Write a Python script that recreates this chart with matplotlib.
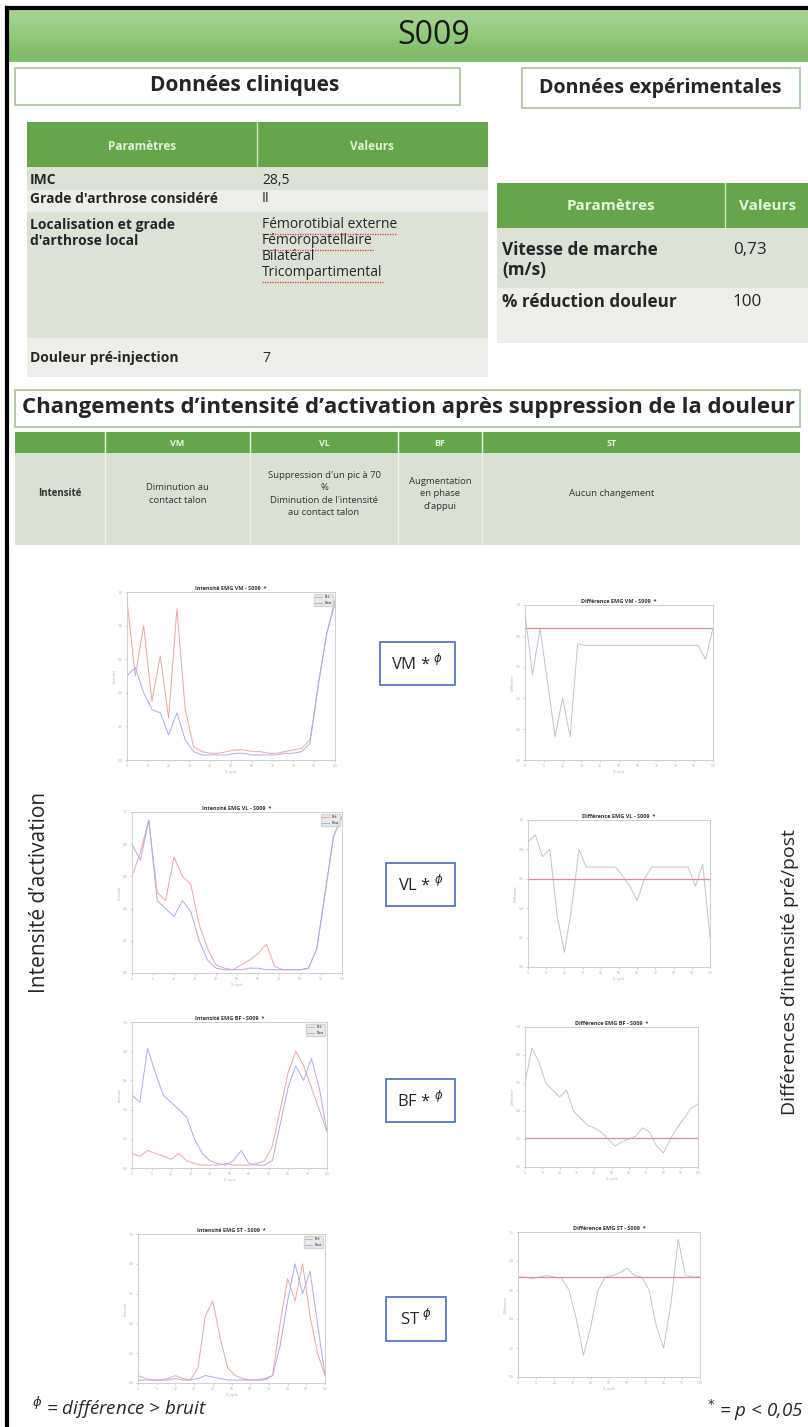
import matplotlib
matplotlib.use('Agg')
import numpy as np
from matplotlib import pyplot as plt
from matplotlib.patches import Rectangle
from matplotlib.colors import LinearSegmentedColormap

plt.rcParams['font.family'] = ['Open Sans', 'DejaVu Sans']

W, H = 808, 1427

# ---- données ----
patient = 'S009'

clin_params = ['IMC', "Grade d'arthrose considéré", "Localisation et grade\nd'arthrose local", 'Douleur pré-injection']
clin_values = ['28,5', 'II', '', '7']
loc_lines = ['Fémorotibial externe', 'Fémoropatellaire', 'Bilatéral', 'Tricompartimental']
loc_underlined = [True, True, False, True]

exp_params = ['Vitesse de marche\n(m/s)', '% réduction douleur']
exp_values = ['0,73', '100']

muscles = ['VM', 'VL', 'BF', 'ST']
changes = ['Diminution au\ncontact talon',
           "Suppression d'un pic à 70\n%\nDiminution de l'intensité\nau contact talon",
           "Augmentation\nen phase\nd'appui",
           'Aucun changement']
signif = [r'VM * ${}^{\phi}$', r'VL * ${}^{\phi}$', r'BF * ${}^{\phi}$', r'ST ${}^{\phi}$']

# % du cycle de marche
cycle = [0, 4, 8, 12, 16, 20, 24, 28, 32, 36, 40, 44, 48, 52, 56, 60, 64, 68, 72, 76, 80, 84, 88, 92, 96, 100]

# intensité d'activation (pré = rouge, post = bleu)
vm_pre = [0.95, 0.50, 0.80, 0.35, 0.62, 0.25, 0.90, 0.30, 0.08, 0.05, 0.04, 0.04, 0.05, 0.06, 0.06, 0.05, 0.05, 0.04, 0.04, 0.05, 0.06, 0.07, 0.12, 0.45, 0.75, 0.93]
vm_post = [0.50, 0.55, 0.40, 0.30, 0.28, 0.15, 0.28, 0.12, 0.05, 0.03, 0.03, 0.03, 0.03, 0.04, 0.04, 0.03, 0.03, 0.03, 0.03, 0.04, 0.04, 0.05, 0.10, 0.45, 0.75, 0.95]
vl_pre = [0.60, 0.75, 0.95, 0.50, 0.45, 0.72, 0.60, 0.55, 0.30, 0.15, 0.05, 0.03, 0.02, 0.05, 0.08, 0.12, 0.18, 0.04, 0.02, 0.02, 0.02, 0.03, 0.15, 0.50, 0.85, 0.97]
vl_post = [0.80, 0.70, 0.95, 0.45, 0.40, 0.35, 0.45, 0.38, 0.20, 0.08, 0.03, 0.02, 0.02, 0.02, 0.03, 0.03, 0.02, 0.02, 0.02, 0.02, 0.02, 0.03, 0.15, 0.50, 0.85, 0.97]
bf_pre = [0.10, 0.08, 0.12, 0.10, 0.08, 0.06, 0.10, 0.05, 0.03, 0.02, 0.02, 0.02, 0.03, 0.02, 0.02, 0.02, 0.03, 0.05, 0.15, 0.40, 0.65, 0.80, 0.70, 0.55, 0.40, 0.25]
bf_post = [0.50, 0.45, 0.82, 0.65, 0.50, 0.45, 0.40, 0.35, 0.20, 0.10, 0.05, 0.03, 0.02, 0.05, 0.12, 0.03, 0.02, 0.02, 0.05, 0.30, 0.55, 0.70, 0.60, 0.75, 0.55, 0.25]
st_pre = [0.05, 0.03, 0.02, 0.02, 0.03, 0.05, 0.03, 0.02, 0.10, 0.45, 0.55, 0.30, 0.10, 0.05, 0.03, 0.02, 0.02, 0.02, 0.05, 0.40, 0.70, 0.55, 0.80, 0.45, 0.20, 0.05]
st_post = [0.02, 0.02, 0.02, 0.02, 0.02, 0.03, 0.02, 0.02, 0.03, 0.05, 0.04, 0.03, 0.02, 0.02, 0.02, 0.02, 0.02, 0.03, 0.05, 0.25, 0.55, 0.80, 0.60, 0.75, 0.40, 0.05]

# différences pré/post et niveau de référence (ligne rouge)
vm_diff = [0.95, 0.55, 0.85, 0.50, 0.15, 0.40, 0.15, 0.75, 0.74, 0.74, 0.74, 0.74, 0.74, 0.74, 0.74, 0.74, 0.74, 0.74, 0.74, 0.74, 0.74, 0.74, 0.74, 0.74, 0.65, 0.85]
vl_diff = [0.85, 0.90, 0.75, 0.80, 0.35, 0.10, 0.40, 0.80, 0.68, 0.68, 0.68, 0.68, 0.68, 0.62, 0.55, 0.45, 0.60, 0.68, 0.68, 0.68, 0.68, 0.68, 0.68, 0.55, 0.70, 0.20]
bf_diff = [0.60, 0.85, 0.75, 0.60, 0.55, 0.50, 0.55, 0.40, 0.35, 0.30, 0.28, 0.25, 0.20, 0.15, 0.18, 0.20, 0.22, 0.28, 0.25, 0.15, 0.10, 0.20, 0.28, 0.35, 0.42, 0.45]
st_diff = [0.69, 0.69, 0.68, 0.69, 0.70, 0.69, 0.68, 0.60, 0.40, 0.15, 0.35, 0.60, 0.69, 0.70, 0.72, 0.75, 0.70, 0.69, 0.60, 0.35, 0.20, 0.50, 0.95, 0.70, 0.69, 0.69]
ref_levels = [0.85, 0.60, 0.21, 0.69]

pre_curves = [vm_pre, vl_pre, bf_pre, st_pre]
post_curves = [vm_post, vl_post, bf_post, st_post]
diff_curves = [vm_diff, vl_diff, bf_diff, st_diff]

# ---- mise en page (pixels) ----
GREEN = '#66a64a'
ROW_DARK = '#dce3d5'
ROW_LIGHT = '#ecefe8'
BOX_EDGE = '#a9c59b'
TXT = '#262626'

fig = plt.figure(figsize=(W / 100, H / 100), dpi=100)
bg = fig.add_axes([0, 0, 1, 1])


def rect(x0, y0, x1, y1, **kw):
    bg.add_patch(Rectangle((x0, y0), x1 - x0, y1 - y0, **kw))


def px_axes(x0, y0, x1, y1):
    return fig.add_axes([x0 / W, 1 - y1 / H, (x1 - x0) / W, (y1 - y0) / H])


# bandeau titre
band = LinearSegmentedColormap.from_list('band', ['#a3d28e', '#93c97c', '#82bb69'])
bg.imshow([[0.0], [0.5], [1.0]], extent=(8, W, 62, 10), aspect='auto', cmap=band,
          interpolation='bilinear', zorder=1)
bg.set_xlim(0, W)
bg.set_ylim(H, 0)
bg.axis('off')
bg.text(434, 35, patient, fontsize=23, ha='center', va='center', color='#1a1a1a', zorder=3)

# cadre noir
bg.plot([7, 7], [8, H], color='black', lw=3, zorder=5)
bg.plot([7, W], [8, 8], color='black', lw=3, zorder=5)

# sous-titres
rect(15, 68, 460, 105, facecolor='white', edgecolor=BOX_EDGE, lw=1.2)
bg.text(245, 86, 'Données cliniques', fontsize=15, fontweight='bold', ha='center', va='center', color=TXT)
rect(522, 68, 800, 108, facecolor='white', edgecolor=BOX_EDGE, lw=1.2)
bg.text(660, 88, 'Données expérimentales', fontsize=14, fontweight='bold', ha='center', va='center', color=TXT)

# tableau clinique
rect(27, 122, 488, 167, facecolor=GREEN, edgecolor='none')
bg.plot([257, 257], [122, 167], color='#cfe3c4', lw=1)
bg.text(142, 146, 'Paramètres', fontsize=8.5, fontweight='bold', ha='center', va='center', color='#e4f0dc')
bg.text(372, 146, 'Valeurs', fontsize=8.5, fontweight='bold', ha='center', va='center', color='#e4f0dc')
row_edges = [167, 190, 212, 338, 377]
row_text_y = [180, 199, 233, 358]
for i, (p, v) in enumerate(zip(clin_params, clin_values)):
    rect(27, row_edges[i], 488, row_edges[i + 1], facecolor=ROW_DARK if i % 2 == 0 else ROW_LIGHT, edgecolor='none')
    bg.text(30, row_text_y[i], p, fontsize=10, fontweight='bold', ha='left', va='center',
            color=TXT, linespacing=1.15)
    bg.text(262, row_text_y[i], v, fontsize=10, ha='left', va='center', color=TXT)
loc_texts = []
for k, line in enumerate(loc_lines):
    loc_texts.append(bg.text(262, 225 + k * 16, line, fontsize=10, ha='left', va='center', color=TXT))

# tableau expérimental
rect(497, 183, W, 228, facecolor=GREEN, edgecolor='none')
bg.plot([725, 725], [183, 228], color='#cfe3c4', lw=1)
bg.text(611, 206, 'Paramètres', fontsize=11, fontweight='bold', ha='center', va='center', color='#e8f3e0')
bg.text(768, 206, 'Valeurs', fontsize=11, fontweight='bold', ha='center', va='center', color='#e8f3e0')
exp_edges = [228, 288, 343]
exp_text_y = [260, 302]
for i, (p, v) in enumerate(zip(exp_params, exp_values)):
    rect(497, exp_edges[i], W, exp_edges[i + 1], facecolor=ROW_DARK if i % 2 == 0 else ROW_LIGHT, edgecolor='none')
    bg.text(502, exp_text_y[i], p, fontsize=12.3, fontweight='bold', ha='left', va='center',
            color=TXT, linespacing=1.15)
    bg.text(733, 250 if i == 0 else 302, v, fontsize=12.3, ha='left', va='center', color=TXT)

# changements d'intensité
rect(15, 390, 800, 427, facecolor='white', edgecolor=BOX_EDGE, lw=1.2)
bg.text(408, 408, "Changements d’intensité d’activation après suppression de la douleur",
        fontsize=16, fontweight='bold', ha='center', va='center', color=TXT)

col_edges = [15, 105, 250, 398, 482, 742]
rect(15, 432, 800, 453, facecolor=GREEN, edgecolor='none')
rect(15, 453, 800, 545, facecolor='#d9e1d1', edgecolor='none')
for x in col_edges[1:-1]:
    bg.plot([x, x], [432, 545], color='#f2f5ef', lw=1)
bg.text((col_edges[0] + col_edges[1]) / 2, 494, 'Intensité', fontsize=7, fontweight='bold',
        ha='center', va='center', color='#333333')
for i, (m, c) in enumerate(zip(muscles, changes)):
    xc = (col_edges[i + 1] + col_edges[i + 2]) / 2
    bg.text(xc, 443, m, fontsize=6.5, fontweight='bold', ha='center', va='center', color='#e8f3e0')
    bg.text(xc, 494, c, fontsize=6.8, ha='center', va='center', color='#333333', linespacing=1.45)

# ---- petits graphiques ----
left_boxes = [(127, 592, 335, 760), (132, 812, 342, 973), (132, 1022, 327, 1168), (138, 1234, 325, 1383)]
right_boxes = [(525, 605, 713, 760), (528, 820, 710, 967), (525, 1027, 698, 1167), (518, 1232, 700, 1377)]
label_boxes = [(380, 642, 455, 685), (386, 863, 455, 906), (386, 1079, 455, 1122), (386, 1297, 446, 1341)]


def mini_style(ax, title):
    ax.set_xlim(0, 100)
    ax.set_ylim(0, 1.0)
    ax.set_xticks([0, 10, 20, 30, 40, 50, 60, 70, 80, 90, 100])
    ax.set_yticks([0, 0.2, 0.4, 0.6, 0.8, 1.0])
    ax.tick_params(labelsize=2.5, colors='#b0b0b0', length=1.5, width=0.4, pad=1.5)
    for s in ax.spines.values():
        s.set_color('#c8c8c8')
        s.set_linewidth(0.6)
    ax.set_title(title, fontsize=4, fontweight='bold', color='#333333', pad=1.5)
    ax.set_xlabel('% cycle', fontsize=2.5, color='#aaaaaa', labelpad=1)


for i, m in enumerate(muscles):
    ax = px_axes(*left_boxes[i])
    ax.plot(cycle, pre_curves[i], color='#f2a4a4', lw=0.7, label='Pré')
    ax.plot(cycle, post_curves[i], color='#aaaaf2', lw=0.7, label='Post')
    mini_style(ax, 'Intensité EMG ' + m + ' - ' + patient + '  *')
    ax.set_ylabel('Intensité', fontsize=2.5, color='#aaaaaa', labelpad=1)
    leg = ax.legend(fontsize=2.5, loc='upper right', frameon=True, handlelength=2)
    leg.get_frame().set_facecolor('#e4e4e4')
    leg.get_frame().set_edgecolor('#cccccc')

    ax2 = px_axes(*right_boxes[i])
    ax2.plot(cycle, diff_curves[i], color='#bcc5d2', lw=0.7)
    ax2.axhline(ref_levels[i], color='#e88a96', lw=0.9)
    mini_style(ax2, 'Différence EMG ' + m + ' - ' + patient + '  *')
    ax2.set_ylabel('Différence', fontsize=2.5, color='#aaaaaa', labelpad=1)

    x0, y0, x1, y1 = label_boxes[i]
    rect(x0, y0, x1, y1, facecolor='white', edgecolor='#4a6cc8', lw=1.2)
    bg.text((x0 + x1) / 2, (y0 + y1) / 2, signif[i], fontsize=12, ha='center', va='center', color=TXT)

# libellés verticaux
bg.text(40, 892, "Intensité d’activation", fontsize=15, rotation=90, ha='center', va='center', color=TXT)
bg.text(790, 972, "Différences d’intensité pré/post", fontsize=14, rotation=90, ha='center', va='center', color=TXT)

# notes
bg.text(32, 1408, r'${}^{\phi}$ = différence > bruit', fontsize=13.5, style='italic', ha='left', va='center', color=TXT)
bg.text(803, 1410, r'${}^{*}$ = p < 0,05', fontsize=13.5, style='italic', ha='right', va='center', color=TXT)

# soulignement rouge (correcteur orthographique)
fig.canvas.draw()
inv = bg.transData.inverted()
for t, und in zip(loc_texts, loc_underlined):
    if und:
        bb = t.get_window_extent()
        (xa, ya), (xb, yb) = inv.transform([[bb.x0, bb.y0], [bb.x1, bb.y1]])
        bg.plot([xa, xb], [ya + 1, ya + 1], color='#e03030', lw=0.9, ls=(0, (1, 1)))

fig.savefig('out.png', dpi=100)
